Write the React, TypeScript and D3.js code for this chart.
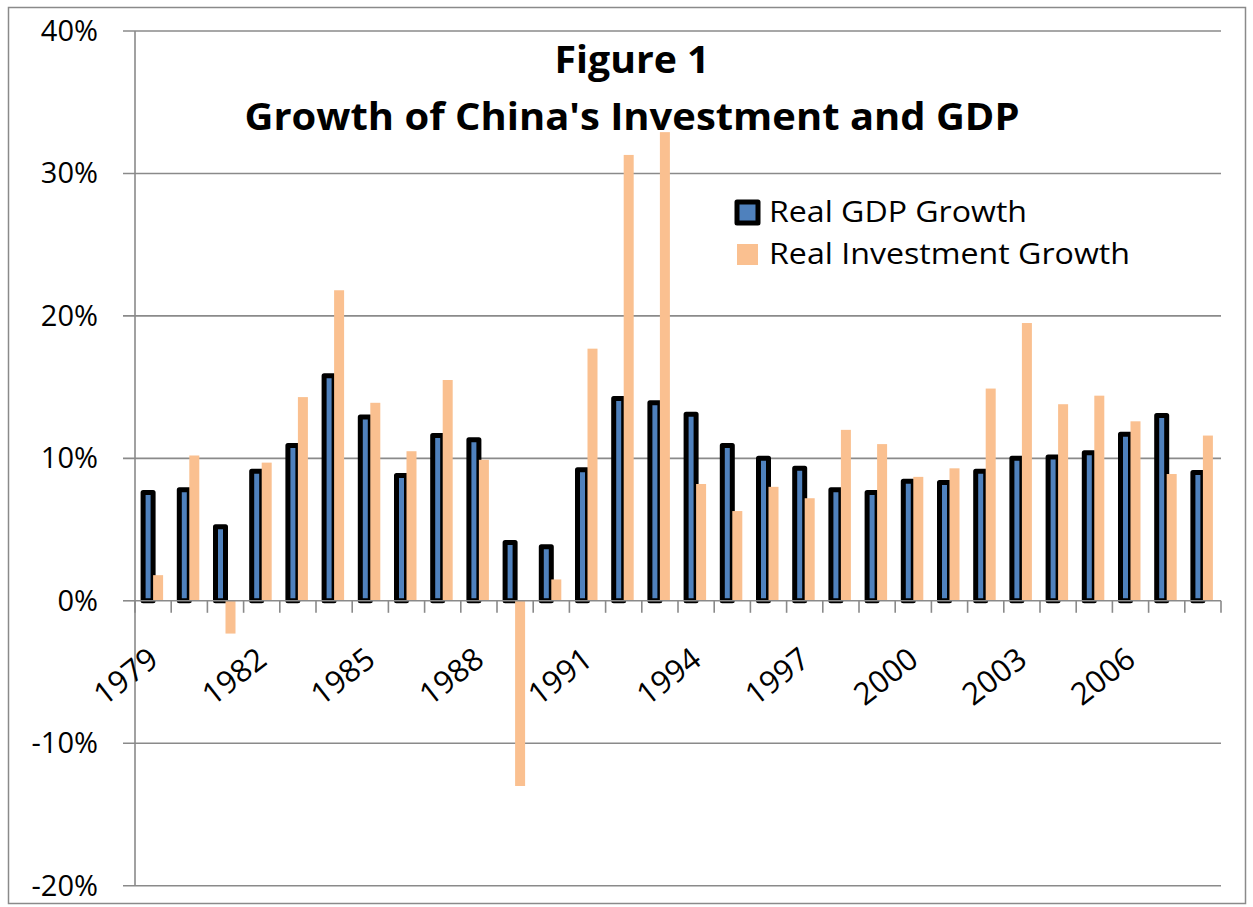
import React from "react";
import * as d3 from "d3";

const years = ["1979","1980","1981","1982","1983","1984","1985","1986","1987","1988","1989","1990","1991","1992","1993","1994","1995","1996","1997","1998","1999","2000","2001","2002","2003","2004","2005","2006","2007","2008"];
const gdpGrowth = [7.6, 7.8, 5.2, 9.1, 10.9, 15.8, 12.9, 8.8, 11.6, 11.3, 4.1, 3.8, 9.2, 14.2, 13.9, 13.1, 10.9, 10.0, 9.3, 7.8, 7.6, 8.4, 8.3, 9.1, 10.0, 10.1, 10.4, 11.7, 13.0, 9.0];
const investmentGrowth = [1.8, 10.2, -2.3, 9.7, 14.3, 21.8, 13.9, 10.5, 15.5, 9.9, -13.0, 1.5, 17.7, 31.3, 32.9, 8.2, 6.3, 8.0, 7.2, 12.0, 11.0, 8.7, 9.3, 14.9, 19.5, 13.8, 14.4, 12.6, 8.9, 11.6];
const yTicks = [-20, -10, 0, 10, 20, 30, 40];
const xTickLabels = ["1979","1982","1985","1988","1991","1994","1997","2000","2003","2006"];
const seriesNames = ["Real GDP Growth", "Real Investment Growth"];
const titleLines = ["Figure 1", "Growth of China's Investment and GDP"];

const BLUE = "#4F81BD";
const ORANGE = "#FAC090";
const GRID = "#8a8a8a";
const FONT = "'Open Sans', 'DejaVu Sans', sans-serif";

export default function App() {
  const W = 1253, H = 907;
  const left = 135, right = 1221, top = 31, bottom = 885.7;
  const y = d3.scaleLinear().domain([-20, 40]).range([bottom, top]);
  const x = d3.scaleBand<string>().domain(years).range([left, right]).padding(0);
  const bw = x.bandwidth();
  const barW = 10;
  const y0 = y(0);
  const fmt = (v: number) => `${v}%`;

  return (
    <svg width={W} height={H} style={{ position: "absolute", left: 0, top: 0, background: "#fff" }}>
      <rect x={8.5} y={7.5} width={1237} height={896} fill="#fff" stroke={GRID} strokeWidth={1.5} />
      {/* gridlines + y ticks */}
      {yTicks.map((t) => (
        <g key={t}>
          <line x1={123} x2={t === 0 ? left : right} y1={y(t)} y2={y(t)} stroke={GRID} strokeWidth={1.6} />
          <text x={98} y={y(t) + 10} textAnchor="end" fontFamily={FONT} fontSize={29} fill="#000">
            {fmt(t)}
          </text>
        </g>
      ))}
      {/* vertical axis */}
      <line x1={left} x2={left} y1={top} y2={bottom} stroke={GRID} strokeWidth={1.6} />
      {/* GDP bars */}
      {years.map((yr, i) => {
        const v = gdpGrowth[i];
        const cx = (x(yr) as number) + bw / 2;
        return (
          <rect key={"g" + yr} x={cx - barW} y={Math.min(y(v), y0)} width={barW}
            height={Math.abs(y(v) - y0)} fill={BLUE} stroke="#000" strokeWidth={5} strokeLinejoin="round" />
        );
      })}
      {/* Investment bars */}
      {years.map((yr, i) => {
        const v = investmentGrowth[i];
        const cx = (x(yr) as number) + bw / 2;
        return (
          <rect key={"i" + yr} x={cx} y={Math.min(y(v), y0)} width={barW}
            height={Math.abs(y(v) - y0)} fill={ORANGE} />
        );
      })}
      {/* zero axis line and category ticks */}
      <line x1={left} x2={right} y1={y0} y2={y0} stroke={GRID} strokeWidth={1.6} />
      {years.concat(["end"]).map((yr, i) => {
        const xx = i < years.length ? (x(yr) as number) : right;
        return <line key={"t" + i} x1={xx} x2={xx} y1={y0} y2={y0 + 12} stroke={GRID} strokeWidth={1.6} />;
      })}
      {/* x labels */}
      {xTickLabels.map((lab) => {
        const cx = (x(lab) as number) + bw / 2;
        return (
          <text key={"xl" + lab} transform={`translate(${cx + 7},${663}) rotate(-38)`} textAnchor="end"
            fontFamily={FONT} fontSize={31} fill="#000">
            {lab}
          </text>
        );
      })}
      {/* title */}
      <text x={632} y={73} textAnchor="middle" fontFamily={FONT} fontWeight="bold" fontSize={37}
        textLength={155} lengthAdjust="spacingAndGlyphs">{titleLines[0]}</text>
      <text x={632} y={130} textAnchor="middle" fontFamily={FONT} fontWeight="bold" fontSize={37}
        textLength={775} lengthAdjust="spacingAndGlyphs">{titleLines[1]}</text>
      {/* legend */}
      <rect x={737} y={202} width={21} height={21} fill={BLUE} stroke="#000" strokeWidth={5} strokeLinejoin="round" />
      <text x={769} y={222} fontFamily={FONT} fontSize={29} textLength={258} lengthAdjust="spacingAndGlyphs">{seriesNames[0]}</text>
      <rect x={737} y={244} width={21} height={21} fill={ORANGE} />
      <text x={769} y={264} fontFamily={FONT} fontSize={29} textLength={361} lengthAdjust="spacingAndGlyphs">{seriesNames[1]}</text>
    </svg>
  );
}
